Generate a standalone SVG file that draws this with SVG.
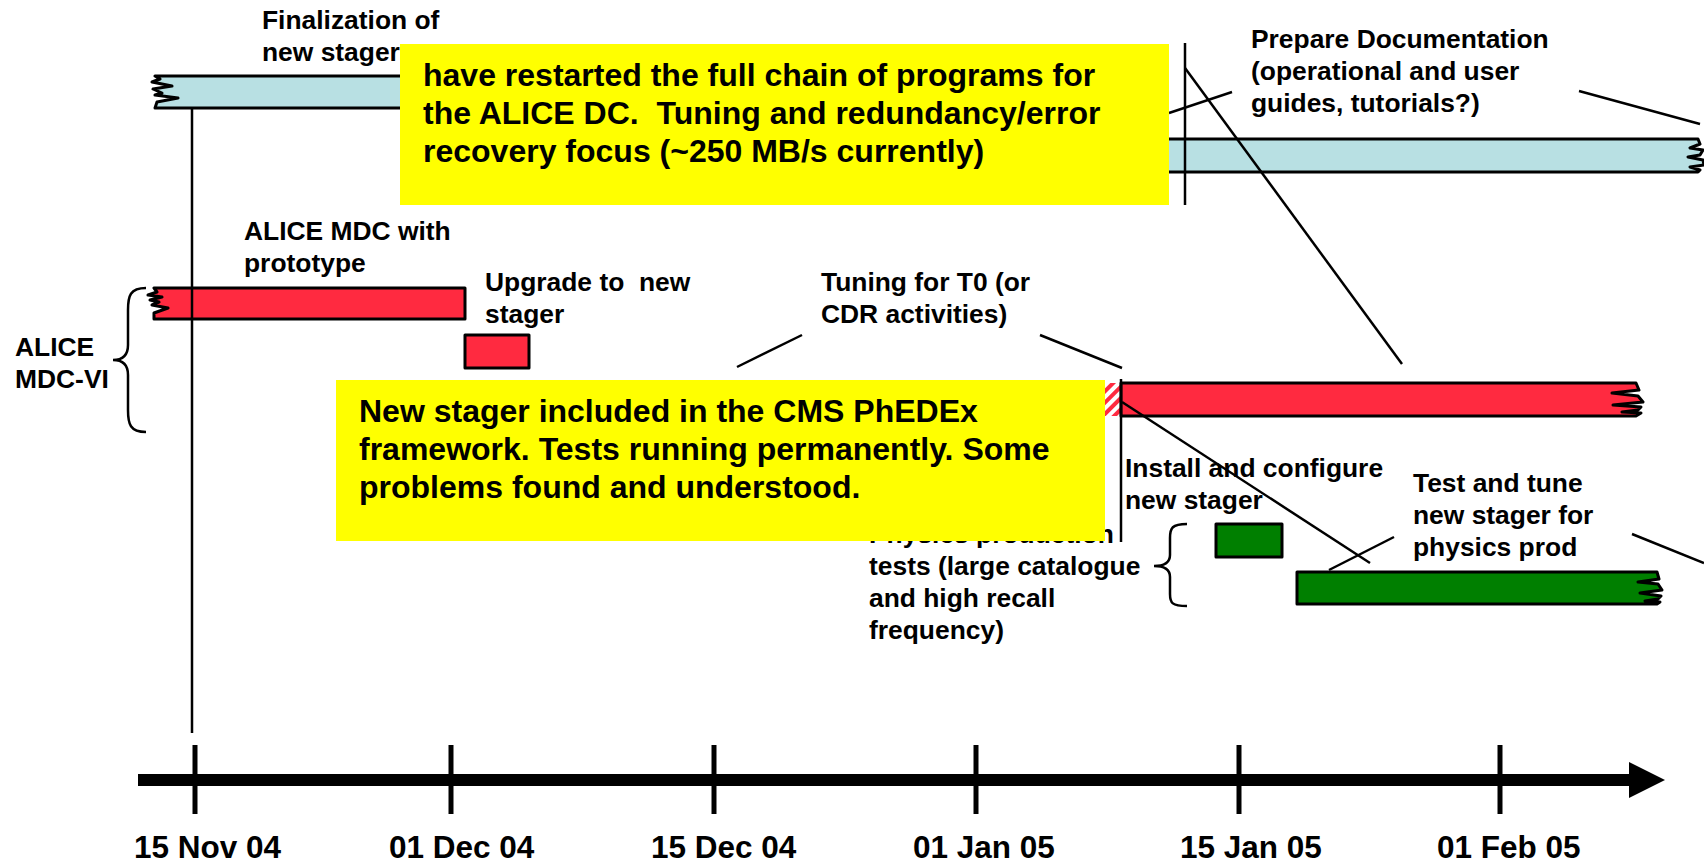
<svg xmlns="http://www.w3.org/2000/svg" width="1704" height="866" viewBox="0 0 1704 866">
  <style>
    text { font-family: "Liberation Sans", Arial, sans-serif; font-weight: bold; fill: #000; white-space: pre; }
    .lbl { font-size: 26.4px; }
    .note { font-size: 32px; }
    .date { font-size: 31.5px; }
    .bar { stroke: #000; stroke-width: 3; stroke-linejoin: round; }
    .blue { fill: #B8E0E3; }
    .red { fill: #FF2A40; }
    .green { fill: #007F00; }
    .ln { stroke: #000; stroke-width: 2.5; fill: none; }
    .brace { stroke: #000; stroke-width: 2.5; fill: none; }
    .tick { stroke: #000; stroke-width: 5; }
    .memo { fill: #FFFF00; }
  </style>
  <defs>
    <pattern id="hatch" patternUnits="userSpaceOnUse" width="8" height="8" patternTransform="rotate(45)">
      <rect width="8" height="8" fill="#fff"/>
      <rect width="4" height="8" fill="#FF2A40"/>
    </pattern>
  </defs>

  <rect width="1704" height="866" fill="#fff"/>

  <!-- time axis -->
  <g id="axis">
    <line x1="138" y1="780" x2="1632" y2="780" stroke="#000" stroke-width="12"/>
    <polygon points="1629,762 1665,780 1629,798" fill="#000"/>
    <line class="tick" x1="195" y1="745" x2="195" y2="814"/>
    <line class="tick" x1="451" y1="745" x2="451" y2="814"/>
    <line class="tick" x1="714" y1="745" x2="714" y2="814"/>
    <line class="tick" x1="976" y1="745" x2="976" y2="814"/>
    <line class="tick" x1="1239" y1="745" x2="1239" y2="814"/>
    <line class="tick" x1="1500" y1="745" x2="1500" y2="814"/>
    <text class="date" x="134" y="858">15 Nov 04</text>
    <text class="date" x="389" y="858">01 Dec 04</text>
    <text class="date" x="651" y="858">15 Dec 04</text>
    <text class="date" x="913" y="858">01 Jan 05</text>
    <text class="date" x="1180" y="858">15 Jan 05</text>
    <text class="date" x="1437" y="858">01 Feb 05</text>
  </g>

  <!-- stager finalization -->
  <g id="finalization">
    <path class="bar blue" d="M155,76 H1120 V108 H155 L157,102 L178,98 L155,95 L162,93 L153,89 L172,86 L152,82 L160,79 Z"/>
    <text class="lbl" x="262" y="29">Finalization of</text>
    <text class="lbl" x="262" y="61">new stager</text>
  </g>

  <!-- documentation -->
  <g id="documentation">
    <path class="bar blue" d="M1150,139 H1698 L1700,144 L1690,148 L1703,150 L1700,155 L1688,157 L1703,160 L1704,165 L1690,167 L1700,170 L1698,172 H1150 Z"/>
    <text class="lbl" x="1251" y="48">Prepare Documentation</text>
    <text class="lbl" x="1251" y="80">(operational and user</text>
    <text class="lbl" x="1251" y="112">guides, tutorials?)</text>
  </g>

  <!-- ALICE MDC-VI group -->
  <g id="alice-group">
    <path class="brace" d="M146,288 C130,288 128,296 128,310 L128,345 C128,356 122,360 113,360 C122,360 128,364 128,375 L128,410 C128,424 130,432 146,432"/>
    <text class="lbl" x="15" y="356">ALICE</text>
    <text class="lbl" x="15" y="388">MDC-VI</text>
  </g>

  <g id="alice-prototype">
    <path class="bar red" d="M154,288 H465 V319 H154 L154,313 L168,308 L152,305 L159,302 L150,300 L162,297 L148,295 L157,292 Z"/>
    <text class="lbl" x="244" y="240">ALICE MDC with</text>
    <text class="lbl" x="244" y="272">prototype</text>
  </g>

  <g id="upgrade">
    <rect class="bar red" x="465" y="335" width="64" height="33"/>
    <text class="lbl" x="485" y="291">Upgrade to  new</text>
    <text class="lbl" x="485" y="323">stager</text>
  </g>

  <g id="tuning-t0">
    <rect x="1104" y="383" width="17" height="33" fill="url(#hatch)"/>
    <path class="bar red" d="M1121,383 H1636 L1639,390 L1612,393 L1638,396 L1643,402 L1613,405 L1641,407 L1638,410 L1622,412 L1641,413 L1636,416 H1121 Z"/>
    <text class="lbl" x="821" y="291">Tuning for T0 (or</text>
    <text class="lbl" x="821" y="323">CDR activities)</text>
  </g>

  <!-- physics production tests -->
  <g id="physics-tests">
    <text class="lbl" x="869" y="543">Physics production</text>
    <text class="lbl" x="869" y="575">tests (large catalogue</text>
    <text class="lbl" x="869" y="607">and high recall</text>
    <text class="lbl" x="869" y="639">frequency)</text>
    <path class="brace" d="M1187,524 C1172,524 1170,528 1170,538 L1170,555 C1170,563 1164,566 1154,566 C1164,566 1170,569 1170,577 L1170,594 C1170,603 1172,606 1187,606"/>
  </g>

  <g id="install">
    <rect class="bar green" x="1216" y="524" width="66" height="33"/>
    <text class="lbl" x="1125" y="477">Install and configure</text>
    <text class="lbl" x="1125" y="509">new stager</text>
  </g>

  <g id="test-tune">
    <path class="bar green" d="M1297,572 H1657 L1659,579 L1638,582 L1658,584 L1662,590 L1640,593 L1661,596 L1658,599 L1645,601 L1660,602 L1657,604 H1297 Z"/>
    <text class="lbl" x="1413" y="492">Test and tune</text>
    <text class="lbl" x="1413" y="524">new stager for</text>
    <text class="lbl" x="1413" y="556">physics prod</text>
  </g>

  <!-- leader lines and markers -->
  <g id="connectors">
    <line class="ln" x1="192" y1="108" x2="192" y2="733"/>
    <line class="ln" x1="1169" y1="113" x2="1232" y2="92"/>
    <line class="ln" x1="1185" y1="43" x2="1185" y2="205"/>
    <line class="ln" x1="1185" y1="68" x2="1402" y2="364"/>
    <line class="ln" x1="1579" y1="91" x2="1700" y2="124"/>
    <line class="ln" x1="737" y1="367" x2="802" y2="335"/>
    <line class="ln" x1="1040" y1="335" x2="1122" y2="368"/>
    <line class="ln" x1="1121" y1="379" x2="1121" y2="542"/>
    <line class="ln" x1="1122" y1="402" x2="1370" y2="563"/>
    <line class="ln" x1="1329" y1="570" x2="1394" y2="537"/>
    <line class="ln" x1="1632" y1="534" x2="1704" y2="563"/>
  </g>

  <!-- status notes -->
  <g id="note-alice">
    <rect class="memo" x="400" y="44" width="769" height="161"/>
    <text class="note" x="423" y="86">have restarted the full chain of programs for</text>
    <text class="note" x="423" y="124">the ALICE DC.  Tuning and redundancy/error</text>
    <text class="note" x="423" y="162">recovery focus (~250 MB/s currently)</text>
  </g>

  <g id="note-cms">
    <rect class="memo" x="336" y="380" width="769" height="161"/>
    <text class="note" x="359" y="422">New stager included in the CMS PhEDEx</text>
    <text class="note" x="359" y="460">framework. Tests running permanently. Some</text>
    <text class="note" x="359" y="498">problems found and understood.</text>
  </g>
</svg>
